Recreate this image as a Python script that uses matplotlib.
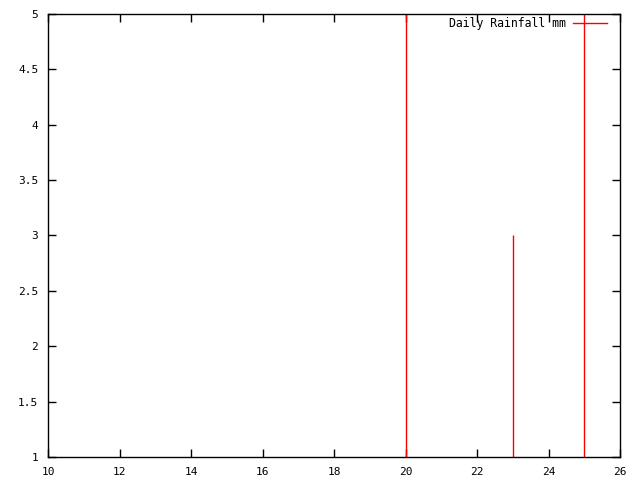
import matplotlib
matplotlib.use('Agg')
import matplotlib.pyplot as plt
import numpy as np

# daily rainfall (mm) per day, drawn as gnuplot-like impulses
days = [20, 23, 25]
rain_mm = [6.0, 3.0, 7.0]

xticks = [10, 12, 14, 16, 18, 20, 22, 24, 26]
yticks = [1, 1.5, 2, 2.5, 3, 3.5, 4, 4.5, 5]
ytick_labels = ['1', '1.5', '2', '2.5', '3', '3.5', '4', '4.5', '5']

fig = plt.figure(figsize=(6.4, 4.8), dpi=100)
ax = fig.add_axes([48/640, 1 - 457/480, (620 - 48)/640, (457 - 14)/480])

ax.vlines(days, 0, rain_mm, colors='#ff0000', linewidth=1.0)
ax.set_xlim(10, 26)
ax.set_ylim(1, 5)

ax.set_xticks(xticks)
ax.set_xticklabels([str(t) for t in xticks])
ax.set_yticks(yticks)
ax.set_yticklabels(ytick_labels)
ax.tick_params(direction='in', top=True, right=True, length=6, width=1,
               labelsize=8, pad=7)
for lab in ax.get_xticklabels() + ax.get_yticklabels():
    lab.set_family('DejaVu Sans Mono')
for sp in ax.spines.values():
    sp.set_linewidth(1)

# legend like gnuplot's key
ax.text(566/640, 1 - 23/480, 'Daily Rainfall mm', transform=fig.transFigure,
        ha='right', va='center', fontsize=8.3, family='DejaVu Sans Mono')
fig.add_artist(plt.Line2D([573/640, 607/640], [1 - 23/480, 1 - 23/480],
                          transform=fig.transFigure, color='#ff0000', linewidth=1))

fig.savefig('out.png', dpi=100)
